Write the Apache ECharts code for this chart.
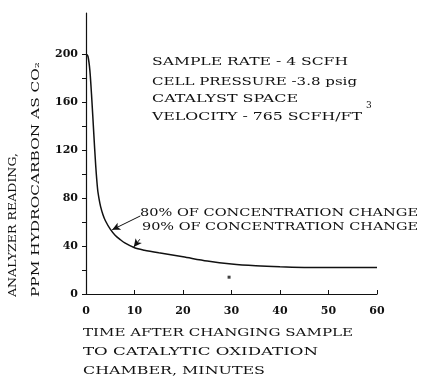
<!DOCTYPE html>
<html>
<head>
<meta charset="utf-8">
<script src="https://cdn.jsdelivr.net/npm/echarts@6/dist/echarts.min.js"></script>
<style>
  html, body { margin: 0; background: #fff; }
  #chart { width: 421px; height: 378px; }
</style>
</head>
<body>
<div id="chart"></div>
<script>
// analyzer response after switching sample
const timeMin = [0, 0.4, 0.8, 1.2, 1.6, 2.0, 2.4, 2.7, 3.0, 3.5, 4, 5, 6, 7, 8, 10, 12, 15, 20, 25, 30, 35, 40, 45, 50, 60];
const ppm = [200, 198, 186, 162, 134, 107, 87, 79, 73, 66, 61, 54, 49, 45.5, 42.5, 38.5, 36.5, 34.3, 31, 27.5, 25, 23.5, 22.6, 22.1, 22, 22];
// a stray print speck under the curve
const speck = [[29.5, 14]];

const yTicks = [0, 20, 40, 60, 80, 100, 120, 140, 160, 180, 200];
const yLabels = [0, 40, 80, 120, 160, 200];

// arrows: [tail, head] in data units
const arrows = [
  [[11.2, 65], [5.4, 53.5]],
  [[11.1, 45.6], [9.85, 39.2]],
];

const conditions = ["SAMPLE RATE - 4 SCFH", "CELL PRESSURE -3.8 psig", "CATALYST SPACE", "VELOCITY - 765 SCFH/FT"];
const notes = ["80% OF CONCENTRATION CHANGE", "90% OF CONCENTRATION CHANGE"];
const xTitle = ["TIME AFTER CHANGING SAMPLE", "TO CATALYTIC OXIDATION", "CHAMBER, MINUTES"];
const yTitle = ["ANALYZER READING,", "PPM HYDROCARBON AS CO\u2082"];

const INK = "#111";
const SERIF = '"DejaVu Serif", "Liberation Serif", serif';

// the scanned type is much wider than DejaVu, so stretch each line to its printed width
const measure = document.createElement("canvas").getContext("2d");
function stretch(text, font, width) {
  measure.font = font;
  return width / measure.measureText(text).width;
}

function label(text, x, y, size, width, rotation) {
  const font = size + "px " + SERIF;
  return {
    type: "text",
    x: x,
    y: y,
    rotation: rotation || 0,
    scaleX: width ? stretch(text, font, width) : 1,
    silent: true,
    style: {
      text: text,
      font: font,
      fill: INK,
      align: "left",
      verticalAlign: "middle",
      textAlign: "left",
      textVerticalAlign: "middle",
    },
  };
}

const condWidths = [196, 205, 146, 210];
const condY = [62, 82, 99, 117];
const noteY = [213, 227];
const xTitleWidths = [270, 235, 182];
const xTitleY = [333, 352, 371];
const yTitleWidths = [144, 235];
const yTitleX = [13, 36];

const graphics = [];
conditions.forEach((t, i) => graphics.push(label(t, 152, condY[i], 11, condWidths[i])));
graphics.push(label("3", 366, 106, 9));
notes.forEach((t, i) => graphics.push(label(t, 140 + i * 2, noteY[i], 11, 278 - i * 2)));
xTitle.forEach((t, i) => graphics.push(label(t, 83, xTitleY[i], 11.5, xTitleWidths[i])));
yTitle.forEach((t, i) => graphics.push(label(t, yTitleX[i], 297, 11, yTitleWidths[i], Math.PI / 2)));

const chart = echarts.init(document.getElementById("chart"), null, { renderer: "canvas" });

const tickFont = { color: INK, fontFamily: SERIF, fontWeight: "bold", fontSize: 11 };

chart.setOption({
  animation: false,
  backgroundColor: "#fff",
  grid: { left: 86, right: 44, top: 13, bottom: 84 },
  xAxis: {
    type: "value",
    min: 0,
    max: 60,
    interval: 10,
    axisLine: { lineStyle: { color: INK, width: 1.2 } },
    axisTick: { inside: true, length: 4, lineStyle: { color: INK } },
    axisLabel: Object.assign({ margin: 12 }, tickFont),
    splitLine: { show: false },
  },
  yAxis: {
    type: "value",
    min: 0,
    max: 234,
    axisLine: { show: true, lineStyle: { color: INK, width: 1.2 } },
    axisTick: { show: true, customValues: yTicks, length: 4, lineStyle: { color: INK } },
    axisLabel: Object.assign({ customValues: yLabels, margin: 8 }, tickFont),
    splitLine: { show: false },
  },
  series: [
    {
      type: "line",
      data: timeMin.map((t, i) => [t, ppm[i]]),
      showSymbol: false,
      smooth: 0.3,
      lineStyle: { color: INK, width: 1.5 },
      silent: true,
      markLine: {
        silent: true,
        symbol: ["none", "arrow"],
        symbolSize: [6, 8],
        label: { show: false },
        lineStyle: { color: INK, width: 1, type: "solid" },
        data: arrows.map(([tail, head]) => [{ coord: tail }, { coord: head }]),
      },
    },
    {
      type: "scatter",
      data: speck,
      symbol: "rect",
      symbolSize: 3,
      itemStyle: { color: INK },
      silent: true,
    },
  ],
  graphic: graphics,
});
</script>
</body>
</html>
